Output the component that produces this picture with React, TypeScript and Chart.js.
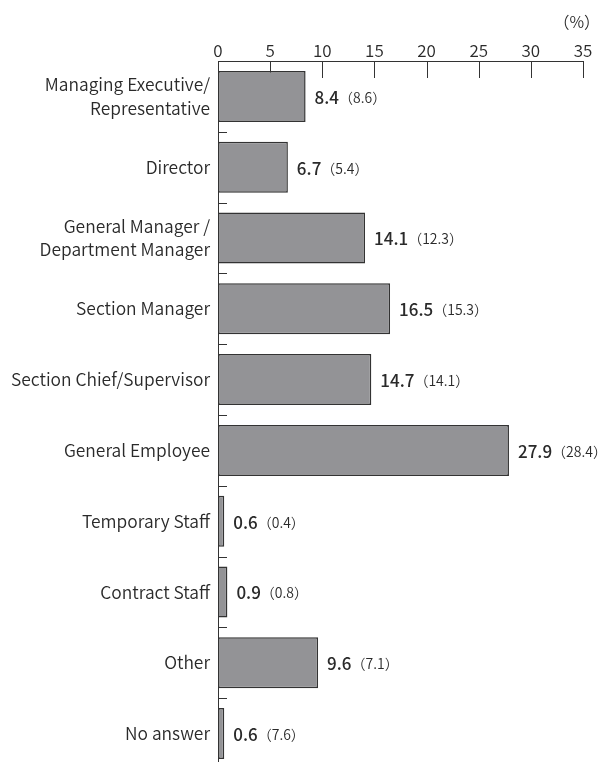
import React, { useEffect, useRef } from "react";
import { Chart, registerables } from "chart.js";

Chart.register(...registerables);

// Respondent positions (multi-line labels as arrays)
const categories: (string | string[])[] = [
  ["Managing Executive/", "Representative"],
  "Director",
  ["General Manager /", "Department Manager"],
  "Section Manager",
  "Section Chief/Supervisor",
  "General Employee",
  "Temporary Staff",
  "Contract Staff",
  "Other",
  "No answer",
];

// Current survey share (%)
const currentValues = [8.4, 6.7, 14.1, 16.5, 14.7, 27.9, 0.6, 0.9, 9.6, 0.6];
// Previous survey share (%), shown in parentheses
const previousValues = [8.6, 5.4, 12.3, 15.3, 14.1, 28.4, 0.4, 0.8, 7.1, 7.6];

const axisMin = 0;
const axisMax = 35;
const axisStep = 5;
const unitLabel = "（%）";

const FONT = "'Noto Sans CJK JP', 'Noto Sans', sans-serif";
const TEXT = "#2a2a2a";
const LINE = "#333";

// Short tick marks pointing into the plot area on both axes
const innerTicks = {
  id: "innerTicks",
  beforeDatasetsDraw(chart: any) {
    const { ctx, chartArea } = chart;
    const x = chart.scales.x;
    const y = chart.scales.y;
    ctx.save();
    ctx.strokeStyle = LINE;
    ctx.lineWidth = 1;
    ctx.beginPath();
    x.ticks.forEach((t: any) => {
      const px = Math.round(x.getPixelForValue(t.value)) + 0.5;
      ctx.moveTo(px, chartArea.top);
      ctx.lineTo(px, chartArea.top + 17);
    });
    const n = categories.length;
    for (let i = 1; i <= n; i++) {
      const py =
        i < n
          ? (y.getPixelForValue(i - 1) + y.getPixelForValue(i)) / 2
          : chartArea.bottom;
      const ry = Math.round(py) + 0.5;
      ctx.moveTo(chartArea.left, ry);
      ctx.lineTo(chartArea.left + 9, ry);
    }
    ctx.stroke();
    ctx.restore();
  },
};

// Value labels at the bar ends plus the unit caption
const valueLabels = {
  id: "valueLabels",
  afterDatasetsDraw(chart: any) {
    const { ctx } = chart;
    const meta = chart.getDatasetMeta(0);
    ctx.save();
    ctx.fillStyle = TEXT;
    ctx.textBaseline = "middle";
    ctx.textAlign = "left";
    meta.data.forEach((bar: any, i: number) => {
      const x0 = bar.x + 9;
      const y0 = bar.y;
      ctx.font = `500 17px ${FONT}`;
      const main = currentValues[i].toFixed(1);
      ctx.fillText(main, x0, y0 + 1);
      const w = ctx.measureText(main).width;
      ctx.font = `350 14px ${FONT}`;
      ctx.fillText(`（${previousValues[i].toFixed(1)}）`, x0 + w, y0 + 1);
    });
    ctx.font = `350 16px ${FONT}`;
    ctx.textAlign = "right";
    ctx.fillText(unitLabel, 600, 22);
    ctx.restore();
  },
};

export default function App() {
  const ref = useRef<HTMLCanvasElement | null>(null);

  useEffect(() => {
    if (!ref.current) return;
    const chart = new Chart(ref.current, {
      type: "bar",
      data: {
        labels: categories,
        datasets: [
          {
            data: currentValues,
            backgroundColor: "#939396",
            borderColor: LINE,
            borderWidth: 1.5,
            borderSkipped: false,
            categoryPercentage: 1,
            barPercentage: 0.72,
          },
        ],
      },
      options: {
        indexAxis: "y",
        responsive: false,
        animation: false,
        devicePixelRatio: 1,
        layout: { padding: { left: 0, right: 25, top: 0, bottom: 0 } },
        plugins: {
          legend: { display: false },
          tooltip: { enabled: false },
        },
        scales: {
          x: {
            position: "top",
            min: axisMin,
            max: axisMax,
            grid: { display: false, drawTicks: false },
            border: { display: true, color: LINE, width: 1 },
            ticks: {
              stepSize: axisStep,
              padding: 0,
              color: TEXT,
              font: { family: FONT, size: 17, weight: 350 },
            },
            afterFit(scale: any) {
              scale.height = 61;
            },
          },
          y: {
            grid: { display: false, drawTicks: false },
            border: { display: true, color: LINE, width: 1 },
            ticks: {
              padding: 8,
              color: TEXT,
              font: { family: FONT, size: 17.4, weight: 350, lineHeight: 1.35 },
            },
            afterFit(scale: any) {
              scale.width = 218;
              scale.paddingTop = 0;
              scale.paddingBottom = 0;
            },
          },
        },
      },
      plugins: [innerTicks, valueLabels],
    });
    return () => chart.destroy();
  }, []);

  return (
    <div
      style={{
        position: "fixed",
        left: 0,
        top: 0,
        width: 608,
        height: 762,
        overflow: "hidden",
        background: "#fff",
      }}
    >
      <canvas ref={ref} width={608} height={769} style={{ display: "block" }} />
    </div>
  );
}
